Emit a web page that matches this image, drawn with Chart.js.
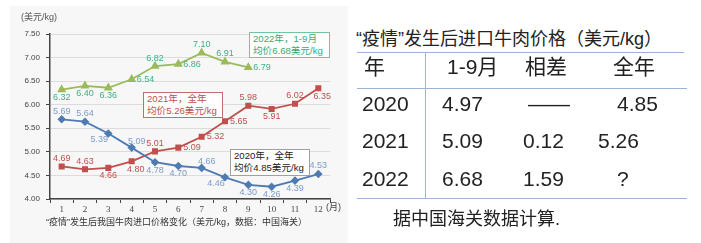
<!DOCTYPE html>
<html>
<head>
<meta charset="utf-8">
<script src="https://cdn.jsdelivr.net/npm/chart.js@4.4.1/dist/chart.umd.min.js"></script>
<style>
  body { margin: 0; background: #fff; width: 701px; height: 243px; overflow: hidden; position: relative;
         font-family: "Liberation Sans", "Noto Sans CJK SC", sans-serif; color: #222; }
  #panel { position: absolute; left: 10px; top: 6px; width: 338px; height: 237px; background: #f7f7f7; }
  #wrap { position: absolute; left: 0; top: 0; width: 350px; height: 243px; }
  .t { position: absolute; white-space: nowrap; line-height: 1; }
  .box { position: absolute; background: #fff; font-size: 9.6px; line-height: 12px; padding: 0 0 0 3px; box-sizing: border-box; white-space: nowrap; }
  .hl { position: absolute; height: 1px; background: #9db4d8; }
  .vl { position: absolute; width: 1px; background: #9db4d8; }
</style>
</head>
<body>
<div id="panel"></div>
<div id="wrap"><canvas id="chart" width="350" height="243"></canvas></div>

<div class="t" style="left:21px;top:13px;font-size:9px;color:#555;">(美元/kg)</div>
<div class="t" style="left:326px;top:203px;font-size:9px;color:#444;">(月)</div>
<div class="t" style="left:46px;top:218px;font-size:9px;color:#333;">“疫情”发生后我国牛肉进口价格变化（美元/kg，数据：中国海关）</div>

<div class="box" style="left:249px;top:32px;width:81px;height:26px;border:1px solid #74c49d;color:#3aa874;">2022年，1-9月<br>均价6.68美元/kg</div>
<div class="box" style="left:143px;top:92px;width:80px;height:26px;border:1px solid #c9696a;color:#c0504d;">2021年，全年<br>均价5.26美元/kg</div>
<div class="box" style="left:230px;top:149px;width:80px;height:27px;border:1px solid #a0a0a0;color:#222;">2020年，全年<br>均价4.85美元/kg</div>

<div id="table"></div>

<script>
// 月份（x 轴）
const months = ["1", "2", "3", "4", "5", "6", "7", "8", "9", "10", "11", "12"];
// 每年进口价格（美元/kg）
const price2020 = [5.69, 5.64, 5.39, 5.09, 4.78, 4.70, 4.66, 4.46, 4.30, 4.26, 4.39, 4.53];
const price2021 = [4.69, 4.63, 4.66, 4.80, 5.01, 5.09, 5.32, 5.65, 5.98, 5.91, 6.02, 6.35];
const price2022 = [6.32, 6.40, 6.36, 6.54, 6.82, 6.86, 7.10, 6.91, 6.79];
const yTicks = [4.00, 4.50, 5.00, 5.50, 6.00, 6.50, 7.00, 7.50];

// 右侧表格
const tableTitle = "“疫情”发生后进口牛肉价格（美元/kg）";
const tableHead = ["年", "1-9月", "相差", "全年"];
const tableYears = ["2020", "2021", "2022"];
const tableAvg19 = ["4.97", "5.09", "6.68"];
const tableDiff = ["——", "0.12", "1.59"];
const tableFull = ["4.85", "5.26", "?"];
const tableNote = "据中国海关数据计算.";

// 数据标签放在点的哪一边
const lbl2020 = ["t", "t", "bl", "tr", "b", "b", "tr", "bl", "b", "b", "b", "t"];
const lbl2021 = ["t", "t", "b", "br", "t", "r", "r", "r", "t", "b", "t", "br"];
const lbl2022 = ["b", "b", "b", "r", "t", "r", "t", "t", "r"];

const offs = {
  t: [0, -8, "center"], b: [0, 8, "center"], r: [5, 0, "left"],
  tr: [5, -6, "center"], bl: [-9, 6, "center"], br: [4, 8, "center"]
};

const labelPlugin = {
  id: "pointLabels",
  afterDatasetsDraw(chart) {
    const ctx = chart.ctx;
    ctx.save();
    ctx.font = "9px 'Liberation Sans', Arial, sans-serif";
    ctx.textBaseline = "middle";
    chart.data.datasets.forEach((ds, di) => {
      const meta = chart.getDatasetMeta(di);
      meta.data.forEach((pt, i) => {
        const o = offs[ds.lblPos[i]];
        ctx.fillStyle = ds.lblColor;
        ctx.textAlign = o[2];
        ctx.fillText(ds.data[i].toFixed(2), pt.x + o[0], pt.y + o[1]);
      });
    });
    ctx.restore();
  }
};

new Chart(document.getElementById("chart").getContext("2d"), {
  type: "line",
  data: {
    labels: months,
    datasets: [
      { data: price2020, borderColor: "#4f7bb3", backgroundColor: "#4f7bb3", borderWidth: 1.8,
        pointStyle: "rectRot", pointRadius: 3, lblPos: lbl2020, lblColor: "#7b9bcc" },
      { data: price2021, borderColor: "#c0504d", backgroundColor: "#c0504d", borderWidth: 1.8,
        pointStyle: "rect", pointRadius: 3, lblPos: lbl2021, lblColor: "#c0504d" },
      { data: price2022, borderColor: "#9bbb59", backgroundColor: "#9bbb59", borderWidth: 1.8,
        pointStyle: "triangle", pointRadius: 3.5, lblPos: lbl2022, lblColor: "#3fae86" }
    ]
  },
  options: {
    responsive: false,
    animation: false,
    layout: { padding: { left: 0, right: 20, top: 34, bottom: 0 } },
    plugins: { legend: { display: false }, tooltip: { enabled: false } },
    elements: { line: { tension: 0 } },
    scales: {
      x: {
        offset: true,
        afterFit: s => { s.height = 44; },
        border: { color: "#444", width: 1.5 },
        grid: { drawOnChartArea: false, tickLength: 4, tickColor: "#444", offset: true },
        ticks: { color: "#444", padding: 1, font: { size: 9, family: "'Liberation Serif', serif" } }
      },
      y: {
        min: 4, max: 7.5,
        afterFit: s => { s.width = 50; },
        afterBuildTicks: s => { s.ticks = yTicks.map(v => ({ value: v })); },
        border: { color: "#444", width: 1.5 },
        grid: { color: "#dcdcdc", tickLength: 4, tickColor: "#444" },
        ticks: { color: "#444", padding: 6, font: { size: 8, family: "'Liberation Sans', Arial, sans-serif" },
                 callback: v => v.toFixed(2) }
      }
    }
  },
  plugins: [labelPlugin]
});

// 表格
const tb = document.getElementById("table");
function put(txt, left, top, size) {
  const d = document.createElement("div");
  d.className = "t";
  d.textContent = txt;
  d.style.left = left + "px";
  d.style.top = top + "px";
  d.style.fontSize = size + "px";
  tb.appendChild(d);
}
function line(cls, l, t, len) {
  const d = document.createElement("div");
  d.className = cls;
  d.style.left = l + "px";
  d.style.top = t + "px";
  if (cls === "hl") d.style.width = len + "px"; else d.style.height = len + "px";
  tb.appendChild(d);
}
put(tableTitle, 356, 30, 18);
line("hl", 357, 52, 327);
line("hl", 357, 88, 330);
line("hl", 357, 198, 330);
line("vl", 425, 52, 146);
const headLeft = [364, 447, 525, 613];
tableHead.forEach((h, i) => put(h, headLeft[i], 56, 21));
const rowTop = [93, 130, 168];
const fullLeft = [617, 598, 617];
tableYears.forEach((y, r) => {
  put(y, 362, rowTop[r], 21);
  put(tableAvg19[r], 442, rowTop[r], 21);
  put(tableDiff[r], r === 0 ? 528 : 523, rowTop[r], 21);
  put(tableFull[r], fullLeft[r], rowTop[r], 21);
});
put(tableNote, 393, 210, 18);
</script>
</body>
</html>
